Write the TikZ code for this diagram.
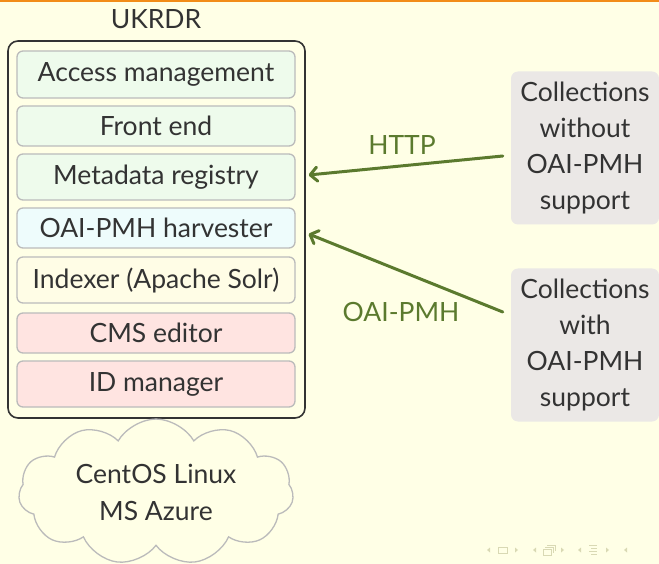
\documentclass[tikz,border=0pt]{standalone}
\usepackage{fontspec}
\setmainfont{Lato}
\usetikzlibrary{shapes.symbols,arrows.meta,calc}
\definecolor{bg}{HTML}{FFFFE6}
\definecolor{txt}{HTML}{333333}
\definecolor{boxline}{HTML}{BBBBBB}
\definecolor{lgreen}{HTML}{EEFBEC}
\definecolor{lcyan}{HTML}{EEFCFC}
\definecolor{lyel}{HTML}{FFFDE6}
\definecolor{lpink}{HTML}{FFE4E1}
\definecolor{collgray}{HTML}{EBE8E6}
\definecolor{olive}{HTML}{5B7A2E}
\definecolor{topline}{HTML}{F28C18}
\definecolor{navc}{HTML}{D9D9B4}
\begin{document}
\begin{tikzpicture}[x=1pt,y=-1pt,
  every node/.style={text=txt},
  bigfont/.style={font=\fontsize{26.5}{36}\selectfont},
  layerbox/.style={draw=boxline, line width=1.3pt, rounded corners=6pt,
    minimum width=278pt, inner sep=0pt, bigfont},
  collbox/.style={fill=collgray, rounded corners=7pt, minimum width=148pt,
    minimum height=153pt, inner sep=0pt, align=center, bigfont},
  arr/.style={draw=olive, line width=3pt, line cap=round,
    -{Straight Barb[length=7pt,width=14pt,line cap=round,line join=round]}},
  arrlabel/.style={text=olive, bigfont},
  nav/.style={fill=navc, draw=none}
]
\useasboundingbox (0,0) rectangle (659,564);
\fill[bg] (0,0) rectangle (659,564);
\fill[topline] (0,0) rectangle (659,1.8);

% outer system box
\node[draw=txt, line width=1.6pt, rounded corners=10pt, minimum width=297pt,
  minimum height=377pt, inner sep=0pt] (ukrdr) at (156.5,229.5) {};
\node[bigfont] (title) at (156,19) {UKRDR};

\node[layerbox, fill=lgreen, minimum height=47pt] (am) at (156,74.5) {Access management};
\node[layerbox, fill=lgreen, minimum height=40pt] (fe) at (156,126) {Front end};
\node[layerbox, fill=lgreen, minimum height=46pt] (mr) at (156,177) {Metadata registry};
\node[layerbox, fill=lcyan, minimum height=40pt] (oh) at (156,228) {OAI-PMH harvester};
\node[layerbox, fill=lyel, minimum height=46pt] (ix) at (156,280) {Indexer (Apache Solr)};
\node[layerbox, fill=lpink, minimum height=40pt] (cms) at (156,333) {CMS editor};
\node[layerbox, fill=lpink, minimum height=46pt] (idm) at (156,384) {ID manager};

% collections
\node[collbox] (c1) at (585,148) {Collections\\without\\OAI-PMH\\support};
\node[collbox] (c2) at (585,345) {Collections\\with\\OAI-PMH\\support};

% arrows
\draw[arr] ($(c1.west)+(-8,8)$) -- ($(mr.east)+(13,-2)$);
\node[arrlabel] (lhttp) at (402,145) {HTTP};
\draw[arr] ($(c2.west)+(-8,-33)$) -- ($(oh.east)+(13,6)$);
\node[arrlabel] (loai) at (401,312) {OAI-PMH};

% cloud
\node[cloud, cloud puffs=11, cloud puff arc=120, aspect=2, draw=boxline,
  line width=1.3pt, fill=bg, minimum width=275pt, minimum height=145pt,
  inner sep=0pt, align=center, font=\fontsize{26.5}{37}\selectfont] (cloud) at (156,492)
  {CentOS Linux\\MS Azure};

% navigation symbols
\fill[nav] (487,550) -- (490,547.5) -- (490,552.5) -- cycle;
\draw[navc, line width=1pt] (498,547) rectangle (507,553);
\fill[nav] (518,550) -- (515,547.5) -- (515,552.5) -- cycle;
\fill[nav] (533,550) -- (536,547.5) -- (536,552.5) -- cycle;
\draw[navc, line width=0.9pt] (543,549) rectangle (551,555);
\draw[navc, line width=0.9pt] (545,547) -- (553,547) -- (553,553);
\draw[navc, line width=0.9pt] (547,545) -- (555,545) -- (555,551);
\fill[nav] (564,550) -- (561,547.5) -- (561,552.5) -- cycle;
\fill[nav] (578,550) -- (581,547.5) -- (581,552.5) -- cycle;
\draw[navc, line width=0.9pt] (589,545) -- (597,545) (591,548) -- (597,548) (589,551) -- (597,551) (591,554) -- (597,554);
\fill[nav] (609,550) -- (606,547.5) -- (606,552.5) -- cycle;
\fill[nav] (624,550) -- (627,547.5) -- (627,552.5) -- cycle;
\end{tikzpicture}
\end{document}
